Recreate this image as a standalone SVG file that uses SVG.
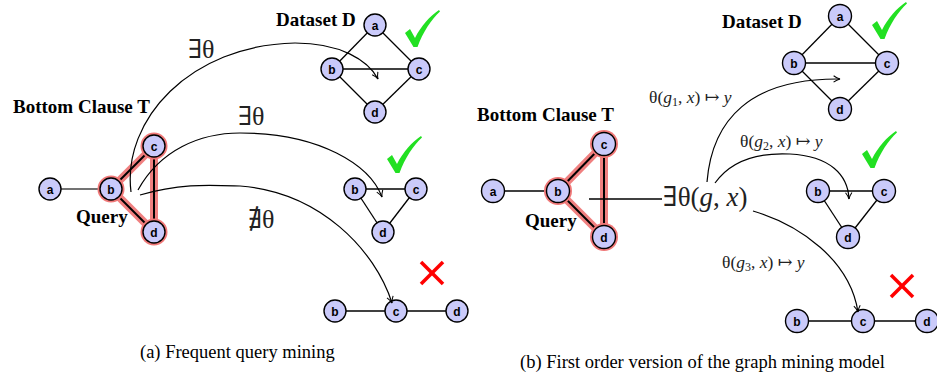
<svg xmlns="http://www.w3.org/2000/svg" width="937" height="374" viewBox="0 0 937 374">
<style>
.n circle.b{fill:#cacafa;stroke:#000;stroke-width:1.4}
.n circle.h{fill:#f07878;stroke:none}
.n text{font-family:"Liberation Sans",Arial,sans-serif;font-weight:bold;font-size:12px;text-anchor:middle;fill:#000}
.e{stroke:#000;stroke-width:1.3;fill:none}
.eg{stroke:#444;stroke-width:1.5;fill:none}
.hl{stroke:#f08080;stroke-width:8;stroke-linecap:round;fill:none}
.hk{stroke:#000;stroke-width:2;fill:none}
.arr{stroke:#000;stroke-width:1.2;fill:none;marker-end:url(#ah)}
.lbl{font-family:"Liberation Serif","Times New Roman",serif;font-weight:bold;font-size:19px;fill:#000}
.cap{font-family:"Liberation Serif","Times New Roman",serif;font-size:18.5px;fill:#000}
.m{font-family:"Liberation Serif","DejaVu Serif",serif;fill:#222}
.mi{font-style:italic}
.x{stroke:#ff0000;stroke-width:3.5;stroke-linecap:butt}
.ck{fill:#22e022}
</style>
<defs>
<marker id="ah" viewBox="0 0 10 10" refX="9" refY="5" markerWidth="8" markerHeight="8" markerUnits="userSpaceOnUse" orient="auto">
<path d="M1,1 Q5,4 9,5 Q5,6 1,9" fill="none" stroke="#000" stroke-width="1.3"/>
</marker>
<path id="check" d="M0,23 L5,19 L10,28 C16,16 25,6 34,0 L35,1.5 C26,10 18,22 12.5,37 L8.5,37 Z"/>
</defs>

<!-- ===== Panel (a) ===== -->
<g id="a-edges">
<line class="eg" x1="50" y1="189" x2="111" y2="189"/>
<line class="hl" x1="111" y1="189" x2="154" y2="146"/>
<line class="hl" x1="111" y1="189" x2="154" y2="232"/>
<line class="hl" x1="154" y1="146" x2="154" y2="232"/>
<line class="hk" x1="111" y1="189" x2="154" y2="146"/>
<line class="hk" x1="111" y1="189" x2="154" y2="232"/>
<line class="hk" x1="154" y1="146" x2="154" y2="232"/>
<line class="e" x1="375" y1="25" x2="332" y2="69"/>
<line class="e" x1="375" y1="25" x2="419" y2="69"/>
<line class="e" x1="332" y1="69" x2="419" y2="69"/>
<line class="e" x1="332" y1="69" x2="375" y2="112"/>
<line class="e" x1="419" y1="69" x2="375" y2="112"/>
<line class="e" x1="355" y1="189" x2="416" y2="189"/>
<line class="e" x1="355" y1="189" x2="383" y2="232"/>
<line class="e" x1="416" y1="189" x2="383" y2="232"/>
<line class="e" x1="335" y1="311" x2="457" y2="311"/>
</g>
<g id="a-q-a" class="n"><circle class="b" cx="50" cy="189" r="11"/><text x="50" y="193.5">a</text></g>
<g id="a-q-b" class="n"><circle class="h" cx="111" cy="189" r="13.5"/><circle class="b" cx="111" cy="189" r="11"/><text x="111" y="193.5">b</text></g>
<g id="a-q-c" class="n"><circle class="h" cx="154" cy="146" r="13.5"/><circle class="b" cx="154" cy="146" r="11"/><text x="154" y="150.5">c</text></g>
<g id="a-q-d" class="n"><circle class="h" cx="154" cy="232" r="13.5"/><circle class="b" cx="154" cy="232" r="11"/><text x="154" y="236.5">d</text></g>
<g id="a-d1-a" class="n"><circle class="b" cx="375" cy="25" r="11"/><text x="375" y="29.5">a</text></g>
<g id="a-d1-b" class="n"><circle class="b" cx="332" cy="69" r="11"/><text x="332" y="73.5">b</text></g>
<g id="a-d1-c" class="n"><circle class="b" cx="419" cy="69" r="11"/><text x="419" y="73.5">c</text></g>
<g id="a-d1-d" class="n"><circle class="b" cx="375" cy="112" r="11"/><text x="375" y="116.5">d</text></g>
<g id="a-d2-b" class="n"><circle class="b" cx="355" cy="189" r="11"/><text x="355" y="193.5">b</text></g>
<g id="a-d2-c" class="n"><circle class="b" cx="416" cy="189" r="11"/><text x="416" y="193.5">c</text></g>
<g id="a-d2-d" class="n"><circle class="b" cx="383" cy="232" r="11"/><text x="383" y="236.5">d</text></g>
<g id="a-d3-b" class="n"><circle class="b" cx="335" cy="311" r="11"/><text x="335" y="315.5">b</text></g>
<g id="a-d3-c" class="n"><circle class="b" cx="396" cy="311" r="11"/><text x="396" y="315.5">c</text></g>
<g id="a-d3-d" class="n"><circle class="b" cx="457" cy="311" r="11"/><text x="457" y="315.5">d</text></g>

<g id="a-connectors">
<path class="arr" d="M131,192 C122,120 190,45 295,43 C340,43 368,60 378,79"/>
<path class="arr" d="M138,190 C160,150 200,133 240,133 C320,133 370,165 382,197"/>
<path class="arr" d="M140,195 C180,183 210,185 240,186 C320,192 375,250 392,303"/>
</g>

<g id="a-labels">
<text class="lbl" x="276" y="26">Dataset D</text>
<text class="lbl" x="13" y="113">Bottom Clause T</text>
<text class="lbl" x="76" y="223">Query</text>
<text class="m" x="188" y="58" font-size="26">∃θ</text>
<text class="m" x="238" y="125" font-size="26">∃θ</text>
<text class="m" x="248" y="228" font-size="26">∄θ</text>
<text class="cap" x="140" y="358">(a) Frequent query mining</text>
<use href="#check" class="ck" transform="translate(405,10)"/>
<use href="#check" class="ck" transform="translate(387,136)"/>
<line class="x" x1="421" y1="262" x2="443" y2="284"/>
<line class="x" x1="443" y1="262" x2="421" y2="284"/>
</g>

<!-- ===== Panel (b) ===== -->
<g id="b-edges">
<line class="e" x1="493" y1="191" x2="558" y2="191"/>
<line class="hl" x1="558" y1="191" x2="604" y2="144"/>
<line class="hl" x1="558" y1="191" x2="604" y2="237"/>
<line class="hl" x1="604" y1="144" x2="604" y2="237"/>
<line class="hk" x1="558" y1="191" x2="604" y2="144"/>
<line class="hk" x1="558" y1="191" x2="604" y2="237"/>
<line class="hk" x1="604" y1="144" x2="604" y2="237"/>
<line class="e" x1="840" y1="16" x2="794" y2="63"/>
<line class="e" x1="840" y1="16" x2="887" y2="63"/>
<line class="e" x1="794" y1="63" x2="887" y2="63"/>
<line class="e" x1="794" y1="63" x2="840" y2="109"/>
<line class="e" x1="887" y1="63" x2="840" y2="109"/>
<line class="e" x1="818" y1="191" x2="884" y2="191"/>
<line class="e" x1="818" y1="191" x2="848" y2="237"/>
<line class="e" x1="884" y1="191" x2="848" y2="237"/>
<line class="e" x1="797" y1="321" x2="927" y2="321"/>
</g>
<g id="b-q-a" class="n"><circle class="b" cx="493" cy="191" r="11.5"/><text x="493" y="195.5">a</text></g>
<g id="b-q-b" class="n"><circle class="h" cx="558" cy="191" r="14"/><circle class="b" cx="558" cy="191" r="11.5"/><text x="558" y="195.5">b</text></g>
<g id="b-q-c" class="n"><circle class="h" cx="604" cy="144" r="14"/><circle class="b" cx="604" cy="144" r="11.5"/><text x="604" y="148.5">c</text></g>
<g id="b-q-d" class="n"><circle class="h" cx="604" cy="237" r="14"/><circle class="b" cx="604" cy="237" r="11.5"/><text x="604" y="241.5">d</text></g>
<g id="b-d1-a" class="n"><circle class="b" cx="840" cy="16" r="11.5"/><text x="840" y="20.5">a</text></g>
<g id="b-d1-b" class="n"><circle class="b" cx="794" cy="63" r="11.5"/><text x="794" y="67.5">b</text></g>
<g id="b-d1-c" class="n"><circle class="b" cx="887" cy="63" r="11.5"/><text x="887" y="67.5">c</text></g>
<g id="b-d1-d" class="n"><circle class="b" cx="840" cy="109" r="11.5"/><text x="840" y="113.5">d</text></g>
<g id="b-d2-b" class="n"><circle class="b" cx="818" cy="191" r="11.5"/><text x="818" y="195.5">b</text></g>
<g id="b-d2-c" class="n"><circle class="b" cx="884" cy="191" r="11.5"/><text x="884" y="195.5">c</text></g>
<g id="b-d2-d" class="n"><circle class="b" cx="848" cy="237" r="11.5"/><text x="848" y="241.5">d</text></g>
<g id="b-d3-b" class="n"><circle class="b" cx="797" cy="321" r="11.5"/><text x="797" y="325.5">b</text></g>
<g id="b-d3-c" class="n"><circle class="b" cx="863" cy="321" r="11.5"/><text x="863" y="325.5">c</text></g>
<g id="b-d3-d" class="n"><circle class="b" cx="927" cy="321" r="11.5"/><text x="927" y="325.5">d</text></g>

<g id="b-connectors">
<line class="e" x1="589" y1="199" x2="662" y2="199"/>
<path class="arr" d="M707,182 C712,120 750,78 840,79"/>
<path class="arr" d="M715,183 C735,155 770,153 790,154 C830,156 848,175 849,199"/>
<path class="arr" d="M753,211 C800,225 850,260 858,312"/>
</g>

<g id="b-labels">
<text class="lbl" x="722" y="28" font-size="20">Dataset D</text>
<text class="lbl" x="477" y="121" font-size="18">Bottom Clause T</text>
<text class="lbl" x="525" y="227" font-size="18">Query</text>
<text class="m" x="663" y="206" font-size="27">∃θ(<tspan class="mi">g</tspan>, <tspan class="mi">x</tspan>)</text>
<text class="m" x="649" y="103" font-size="17.5">θ(<tspan class="mi">g</tspan><tspan font-size="12" dy="3">1</tspan><tspan dy="-3">, </tspan><tspan class="mi">x</tspan>) ↦ <tspan class="mi">y</tspan></text>
<text class="m" x="740" y="147" font-size="17.5">θ(<tspan class="mi">g</tspan><tspan font-size="12" dy="3">2</tspan><tspan dy="-3">, </tspan><tspan class="mi">x</tspan>) ↦ <tspan class="mi">y</tspan></text>
<text class="m" x="722" y="268" font-size="17.5">θ(<tspan class="mi">g</tspan><tspan font-size="12" dy="3">3</tspan><tspan dy="-3">, </tspan><tspan class="mi">x</tspan>) ↦ <tspan class="mi">y</tspan></text>
<text class="cap" x="520" y="368">(b) First order version of the graph mining model</text>
<use href="#check" class="ck" transform="translate(872,2)"/>
<use href="#check" class="ck" transform="translate(862,131)"/>
<line class="x" x1="891" y1="275" x2="913" y2="297"/>
<line class="x" x1="913" y1="275" x2="891" y2="297"/>
</g>
</svg>
